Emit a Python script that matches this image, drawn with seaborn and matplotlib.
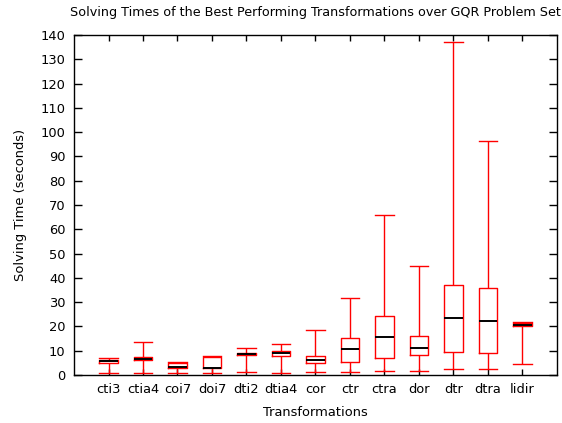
import numpy as np
import pandas as pd
import seaborn as sns
import matplotlib
matplotlib.use('Agg')
import matplotlib.pyplot as plt

# five-number summaries (seconds)
transformations = ['cti3', 'ctia4', 'coi7', 'doi7', 'dti2', 'dtia4', 'cor',
                   'ctr', 'ctra', 'dor', 'dtr', 'dtra', 'lidir']
whisker_low = [1.0, 1.0, 0.7, 0.7, 1.4, 0.8, 1.2, 1.2, 1.6, 1.8, 2.3, 2.3, 4.4]
quartile_1 = [5.1, 6.0, 3.0, 2.9, 8.1, 8.0, 5.1, 5.2, 7.1, 8.1, 9.6, 9.2, 20.3]
median = [5.6, 6.6, 3.2, 3.0, 8.6, 9.1, 6.0, 10.8, 15.6, 11.3, 23.6, 22.1, 20.5]
quartile_3 = [6.0, 7.3, 4.9, 7.5, 8.9, 9.9, 7.7, 15.4, 24.4, 15.9, 37.2, 35.7, 21.5]
whisker_high = [6.9, 13.4, 5.2, 7.7, 11.0, 12.9, 18.4, 31.6, 65.7, 44.7, 137.0, 96.2, 22.0]

rows = []
for i, name in enumerate(transformations):
    for v in (whisker_low[i], quartile_1[i], median[i], quartile_3[i], whisker_high[i]):
        rows.append({'Transformations': name, 'time': v})
df = pd.DataFrame(rows)

plt.rcParams['font.family'] = ['DejaVu Sans']
plt.rcParams['font.size'] = 9.4

fig = plt.figure(figsize=(5.62, 4.23), dpi=100)
ax = fig.add_axes([0.1317, 0.1135, 0.8593, 0.8035])

box_w = 0.54
sns.boxplot(data=df, x='Transformations', y='time', order=transformations,
            whis=(0, 100), width=box_w, fill=False, color='red',
            linewidth=1.0, showfliers=False,
            medianprops={'color': 'black', 'linewidth': 1.4},
            ax=ax)

# caps as wide as the boxes, like gnuplot's candlesticks
for line in ax.lines:
    xd, yd = np.asarray(line.get_xdata(), float), np.asarray(line.get_ydata(), float)
    if len(xd) == 2 and yd[0] == yd[1] and line.get_color() != 'black':
        c = xd.mean()
        line.set_xdata([c - box_w / 2, c + box_w / 2])

ax.set_xlim(-1, len(transformations))
ax.set_ylim(0, 140)
ax.set_yticks(range(0, 141, 10))
ax.set_xlabel('Transformations', labelpad=7)
ax.set_ylabel('Solving Time (seconds)', labelpad=10)
ax.set_title('Solving Times of the Best Performing Transformations over GQR Problem Set',
             fontsize=9.2, pad=14)

for s in ax.spines.values():
    s.set_visible(True)
    s.set_color('black')
    s.set_linewidth(1.0)
ax.tick_params(direction='in', length=6, width=1, color='black',
               top=True, right=True, labelsize=9.4, pad=6)
ax.tick_params(axis='x', length=4)

fig.savefig('out.png', dpi=100)
